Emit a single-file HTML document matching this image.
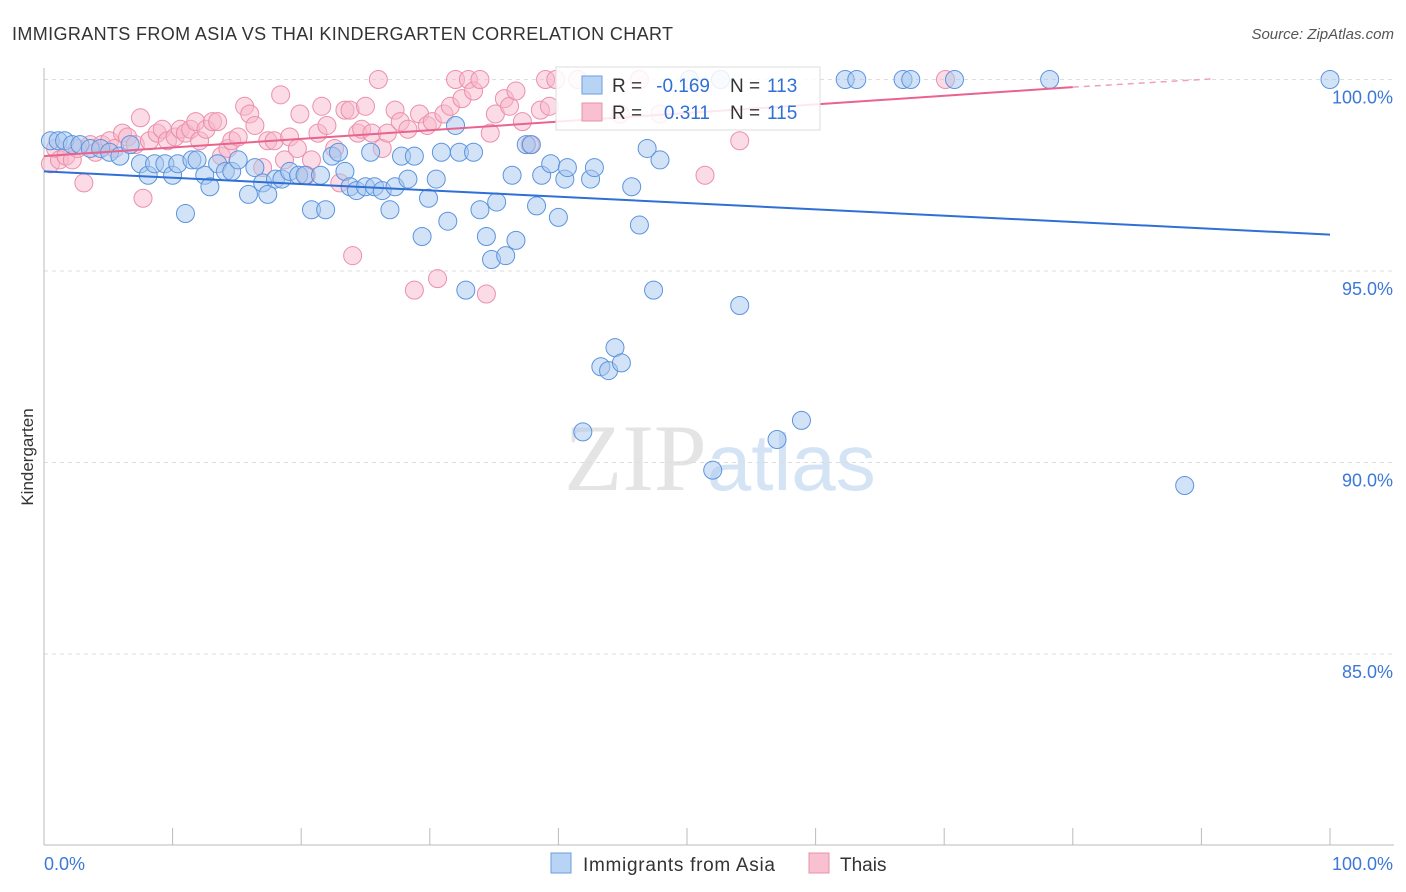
<!DOCTYPE html>
<html><head><meta charset="utf-8"><style>
body{margin:0;background:#fff;font-family:"Liberation Sans",sans-serif}
</style></head><body>
<svg id="c" width="1406" height="892" style="display:block">
<text x="12" y="40" font-size="18" fill="#333" textLength="661">IMMIGRANTS FROM ASIA VS THAI KINDERGARTEN CORRELATION CHART</text>
<text x="1394" y="39" font-size="15" fill="#555" text-anchor="end" font-style="italic">Source: ZipAtlas.com</text>
<text x="33" y="457" font-size="17" fill="#333" text-anchor="middle" transform="rotate(-90 33 457)">Kindergarten</text>
<text x="720" y="490" font-size="95" fill="#e4e4e4" text-anchor="middle" font-family="Liberation Serif">ZIP<tspan fill="#d4e4f4" font-family="Liberation Sans" font-size="80">atlas</tspan></text>
<g id="grid"></g><g id="pts"></g><g id="lines"></g>
<g>
<rect x="556" y="67" width="264" height="63" fill="#fff" fill-opacity="0.85" stroke="#ddd"/>
<rect x="582" y="76" width="20" height="18" fill="#b8d4f4" stroke="#6a9ee0"/>
<text x="612" y="92" font-size="19" fill="#333">R =</text>
<text x="710" y="92" font-size="19" fill="#2f6fd6" text-anchor="end">-0.169</text>
<text x="730" y="92" font-size="19" fill="#333">N =</text>
<text x="767" y="92" font-size="19" fill="#2f6fd6">113</text>
<rect x="582" y="103" width="20" height="18" fill="#f8c0d0" stroke="#e890a8"/>
<text x="612" y="119" font-size="19" fill="#333">R =</text>
<text x="710" y="119" font-size="19" fill="#2f6fd6" text-anchor="end">0.311</text>
<text x="730" y="119" font-size="19" fill="#333">N =</text>
<text x="767" y="119" font-size="19" fill="#2f6fd6">115</text>
</g>
<g>
<rect x="551" y="853" width="20" height="20" fill="#b8d4f4" stroke="#6a9ee0"/>
<text x="583" y="871" font-size="19" fill="#333" textLength="192">Immigrants from Asia</text>
<rect x="809" y="853" width="20" height="20" fill="#f8c0d0" stroke="#e890a8"/>
<text x="840" y="871" font-size="19" fill="#333">Thais</text>
</g>
</svg>
<script>
const xTicks=[0,10,20,30,40,50,60,70,80,90,100];
const yTicks=[85,90,95,100];
const blueX=[0.5,1.1,1.6,2.2,2.8,3.6,4.4,5.1,5.9,6.7,
7.5,8.1,8.6,9.4,10.0,10.4,11.0,11.5,11.9,12.5,
12.9,13.5,14.1,14.6,15.1,15.9,16.4,17.0,17.4,18.0,
18.5,19.1,19.8,20.3,20.8,21.5,21.9,22.4,22.9,23.4,
23.8,24.3,25.0,25.4,25.7,26.3,26.9,27.3,27.8,28.3,
28.8,29.4,29.9,30.5,30.9,31.4,32.0,32.3,32.8,33.4,
33.9,34.4,34.8,35.2,35.9,36.4,36.7,37.5,37.9,38.3,
38.7,39.4,40.0,40.5,40.7,41.9,42.5,42.8,43.3,43.9,
44.4,44.9,45.7,46.3,46.9,47.4,47.9,50.2,52.0,52.6,
54.1,57.0,58.9,62.3,63.2,66.8,67.4,70.8,78.2,88.7,100];
const blueY=[98.4,98.4,98.4,98.3,98.3,98.2,98.2,98.1,98.0,98.3,
97.8,97.5,97.8,97.8,97.5,97.8,96.5,97.9,97.9,97.5,
97.2,97.8,97.6,97.6,97.9,97.0,97.7,97.3,97.0,97.4,
97.4,97.6,97.5,97.5,96.6,97.5,96.6,98.0,98.1,97.6,
97.2,97.1,97.2,98.1,97.2,97.1,96.6,97.2,98.0,97.4,
98.0,95.9,96.9,97.4,98.1,96.3,98.8,98.1,94.5,98.1,
96.6,95.9,95.3,96.8,95.4,97.5,95.8,98.3,98.3,96.7,
97.5,97.8,96.4,97.4,97.7,90.8,97.4,97.7,92.5,92.4,
93.0,92.6,97.2,96.2,98.2,94.5,97.9,100,89.8,100,
94.1,90.6,91.1,100,100,100,100,100,100,89.4,100];
const pinkX=[0.5,0.9,1.2,1.7,2.2,2.6,3.1,3.6,4.0,4.5,
5.1,5.5,6.1,6.5,7.1,7.5,7.7,8.2,8.8,9.2,
9.6,10.2,10.6,11.0,11.4,11.8,12.1,12.6,13.1,13.5,
13.8,14.3,14.6,15.1,15.6,16.0,16.4,17.0,17.4,17.9,
18.4,18.7,19.1,19.7,19.9,20.4,20.8,21.3,21.6,22.0,
22.6,23.0,23.4,23.8,24.0,24.4,24.7,25.0,25.5,26.0,
26.3,26.7,27.3,27.7,28.3,28.8,29.2,29.8,30.2,30.6,
31.1,31.6,32.0,32.5,33.0,33.4,33.9,34.4,34.7,35.1,
35.8,36.2,36.7,37.2,37.8,38.6,39.0,39.3,39.8,41.5,
44.8,46.3,47.9,51.4,54.1,70.1];
const pinkY=[97.8,98.2,97.9,98.0,97.9,98.2,97.3,98.3,98.1,98.3,
98.4,98.2,98.6,98.5,98.3,99.0,96.9,98.4,98.6,98.7,
98.4,98.5,98.7,98.6,98.7,98.9,98.4,98.7,98.9,98.9,
98.0,98.2,98.4,98.5,99.3,99.1,98.8,97.7,98.4,98.4,
99.6,97.9,98.5,98.2,99.1,97.5,97.9,98.6,99.3,98.8,
98.2,97.3,99.2,99.2,95.4,98.6,98.7,99.3,98.6,100,
98.2,98.6,99.2,98.9,98.7,94.5,99.1,98.8,98.9,94.8,
99.1,99.3,100,99.5,100,99.7,100,94.4,98.6,99.1,
99.5,99.3,99.7,98.9,98.3,99.2,100,99.3,100,100,
99.1,100,99.1,97.5,98.4,100];
const NS='http://www.w3.org/2000/svg';
const X0=44,X1=1330,Y100=79.5,PX=38.3;
function sx(v){return X0+(X1-X0)*v/100}
function sy(v){return Y100+(100-v)*PX}
function mk(t,a,p){const e=document.createElementNS(NS,t);for(const k in a)e.setAttribute(k,a[k]);p.appendChild(e);return e}
const g=document.getElementById('grid'),pts=document.getElementById('pts'),ln=document.getElementById('lines');
yTicks.forEach(v=>{const l=mk('line',{x1:X0,x2:1394,y1:sy(v),y2:sy(v),stroke:'#ddd','stroke-dasharray':'4 4'},g);


const t=mk('text',{x:1393,y:sy(v)+24,'font-size':18,fill:'#3b78d8','text-anchor':'end'},g);t.textContent=v.toFixed(1)+'%';

});
const ax=mk('line',{x1:X0,x2:X0,y1:68,y2:845,stroke:'#bbb'},g);


const bx=mk('line',{x1:X0,x2:1394,y1:845,y2:845,stroke:'#bbb'},g);


xTicks.forEach(v=>{const l=mk('line',{x1:sx(v),x2:sx(v),y1:828,y2:845,stroke:'#bbb'},g);

});
[[0,'0.0%','start',X0],[100,'100.0%','end',1393]].forEach(a=>{const t=mk('text',{x:a[3],y:870,'font-size':18,fill:'#3b78d8','text-anchor':a[2]},g);t.textContent=a[1];

});
pinkX.forEach((v,i)=>{const c=mk('circle',{cx:sx(v),cy:sy(pinkY[i]),r:9,fill:'#f8b8cc','fill-opacity':0.5,stroke:'#ec8fab','stroke-width':1},pts);

});
blueX.forEach((v,i)=>{const c=mk('circle',{cx:sx(v),cy:sy(blueY[i]),r:9,fill:'#a8c8f0','fill-opacity':0.5,stroke:'#5b94de','stroke-width':1},pts);

});
const bl=mk('line',{x1:sx(0),y1:sy(97.6),x2:sx(100),y2:sy(95.95),stroke:'#2f6fd6','stroke-width':2},ln);


const pl=mk('line',{x1:sx(0),y1:sy(98.0),x2:sx(80),y2:sy(99.8),stroke:'#e8638e','stroke-width':2},ln);


const pd=mk('line',{x1:sx(80),y1:sy(99.8),x2:sx(91),y2:sy(100.02),stroke:'#f0a0b8','stroke-width':1.5,'stroke-dasharray':'6 5'},ln);


</script>
</body></html>
